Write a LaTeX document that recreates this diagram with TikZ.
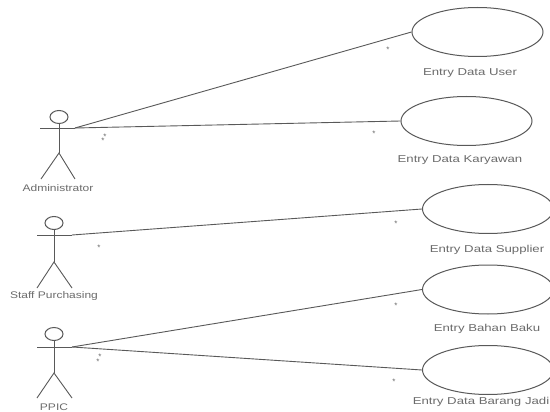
\documentclass[tikz,border=0pt]{standalone}
\usepackage{fontspec}
\setmainfont{Liberation Sans}
\definecolor{ink}{gray}{0.35}
\definecolor{txt}{gray}{0.42}
\tikzset{
  usecase/.style={draw=ink,ellipse,line width=1pt,minimum width=131pt,minimum height=49pt,inner sep=0pt,fill=white},
  head/.style={draw=ink,ellipse,line width=1pt,minimum width=18pt,minimum height=13pt,inner sep=0pt,fill=white},
  limb/.style={draw=ink,line width=0.9pt},
  assoc/.style={draw=ink,line width=0.9pt},
  lab/.style={text=txt,font=\fontsize{10}{11}\selectfont,inner sep=0pt,xscale=1.32,transform shape},
  actlab/.style={text=txt,font=\fontsize{9.6}{11}\selectfont,inner sep=0pt,xscale=1.25,transform shape},
  mult/.style={text=txt,font=\fontsize{8}{8}\selectfont,inner sep=0pt}
}
\usetikzlibrary{shapes.geometric}
\begin{document}
\begin{tikzpicture}[x=1pt,y=-1pt]
\useasboundingbox (0,0) rectangle (550,412);
\fill[white] (0,0) rectangle (550,412);
% use cases
\node[usecase] (u1) at (477.5,32) {};
\node[usecase] (u2) at (466.5,121) {};
\node[usecase] (u3) at (488,209) {};
\node[usecase] (u4) at (488,289.5) {};
\node[usecase] (u5) at (488,370) {};
\node[lab] (l1) at (470,73) {Entry Data User};
\node[lab] (l2) at (460,160) {Entry Data Karyawan};
\node[lab] (l3) at (487,250) {Entry Data Supplier};
\node[lab] (l4) at (487,329) {Entry Bahan Baku};
\node[lab] (l5) at (481,402) {Entry Data Barang Jadi};
% actor 1
\node[head] (a1) at (59,117) {};
\coordinate (a1l) at (40,128);
\coordinate (a1r) at (75,128);
\coordinate (a1b) at (59,153);
\coordinate (a1f) at (41,179);
\coordinate (a1g) at (75,179);
\draw[limb] (a1) -- (a1b);
\draw[limb] (a1l) -- (a1r);
\draw[limb] (a1f) -- (a1b) -- (a1g);
\node[actlab] (n1) at (58,188) {Administrator};
% actor 2
\node[head] (a2) at (54,223) {};
\coordinate (a2l) at (37,235);
\coordinate (a2r) at (72,235);
\coordinate (a2b) at (54,262);
\coordinate (a2f) at (37,288);
\coordinate (a2g) at (72,288);
\draw[limb] (a2) -- (a2b);
\draw[limb] (a2l) -- (a2r);
\draw[limb] (a2f) -- (a2b) -- (a2g);
\node[actlab] (n2) at (54,296) {Staff Purchasing};
% actor 3
\node[head] (a3) at (54,334) {};
\coordinate (a3l) at (37,347);
\coordinate (a3r) at (72,347);
\coordinate (a3b) at (54,373);
\coordinate (a3f) at (37,398);
\coordinate (a3g) at (72,398);
\draw[limb] (a3) -- (a3b);
\draw[limb] (a3l) -- (a3r);
\draw[limb] (a3f) -- (a3b) -- (a3g);
\node[actlab] (n3) at (54,407) {PPIC};
% associations
\draw[assoc] (a1r) -- (u1.west);
\draw[assoc] (a1r) -- (u2.west);
\draw[assoc] (a2r) -- (u3.west);
\draw[assoc] (a3r) -- (u4.west);
\draw[assoc] (a3r) -- (u5.west);
% multiplicities
\node[mult] (m1) at (105,137) {*};
\node[mult] (m2) at (103,141) {*};
\node[mult] (m3) at (388,50) {*};
\node[mult] (m4) at (374,134) {*};
\node[mult] (m5) at (99,248) {*};
\node[mult] (m6) at (396,224) {*};
\node[mult] (m7) at (100,357) {*};
\node[mult] (m8) at (98,362) {*};
\node[mult] (m9) at (396,306) {*};
\node[mult] (m10) at (394,382) {*};
\end{tikzpicture}
\end{document}
